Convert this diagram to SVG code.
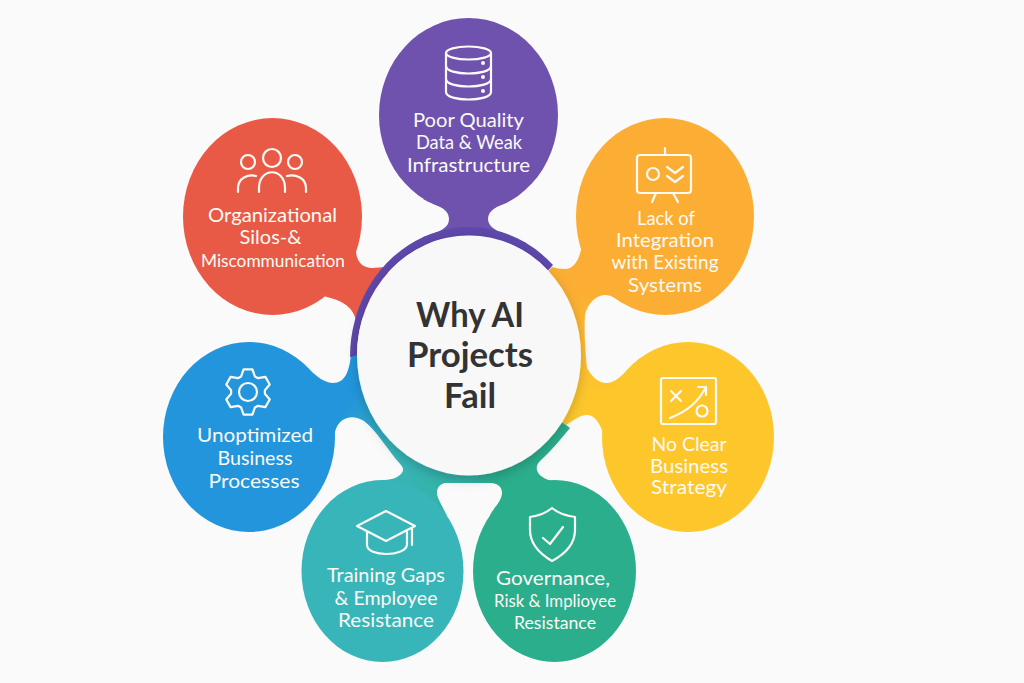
<svg xmlns="http://www.w3.org/2000/svg" width="1024" height="683" viewBox="0 0 1024 683">
<style>
.lb{font-family:"Lato","Noto Sans","Liberation Sans",sans-serif;font-size:20px;fill:#fbfaf5;text-anchor:middle;font-weight:400}
.sm{font-size:18px}
.ti{font-family:"Lato","Noto Sans","Liberation Sans",sans-serif;font-size:35px;font-weight:700;fill:#333333;text-anchor:middle}
.ic{fill:none;stroke:#fbfaf5;stroke-width:2.2;stroke-linecap:round;stroke-linejoin:round}
.dot{fill:#fbfaf5}
</style>
<defs>
<linearGradient id="gb" gradientUnits="userSpaceOnUse" x1="350" y1="400" x2="520" y2="490">
<stop offset="0" stop-color="#2395dc"/><stop offset="0.3" stop-color="#38b5b9"/><stop offset="0.73" stop-color="#33b1a6"/><stop offset="0.86" stop-color="#2bae8c"/>
</linearGradient>
<linearGradient id="gr" gradientUnits="userSpaceOnUse" x1="0" y1="290" x2="0" y2="395">
<stop offset="0" stop-color="#fbae33"/><stop offset="1" stop-color="#fdc72c"/>
</linearGradient>
<filter id="sh" x="-20%" y="-20%" width="140%" height="140%"><feDropShadow dx="0" dy="4" stdDeviation="6" flood-color="#000" flood-opacity="0.2"/></filter>
</defs>
<rect width="1024" height="683" fill="#fafafa"/>
<g id="connectors">
<path fill="#6f52ae" d="M423,199 C437,206 449,208 449,219 C449,228 440,232 423,237 L527,243.500 C505,234 488,230 488,219 C488,210 498,206 510,200 Z"/>
<path fill="#e85a45" d="M356,250 C356,262 363,268 372,268 L385,267 L400,300 L356,320 C352,305 340,300 325,296.500 Z"/>
<path fill="url(#gb)" d="M300,360.500 C312,372 322,383 333,383 C345,383 349,372 351,355 L470,350 L570,428 C560,440 550,452 540,461 C535,466 536,472 541,476 C546,480 552,481 560,482 L490,516 C492,510 497,506 500,500 C505,490 500,484 492,483 L445,483 C437,485 435,492 439,500 C442,506 444,510 447,516 L372,481 C385,480 392,480 397,477 C403,473 405,470 401,465 C385,447 378,432 364,421 C352,413 338,418 335,432 C333,438 333,444 334,450 Z"/>
<path fill="url(#gr)" d="M581,250 C578,262 573,269 565,269 C560,269 556,268 552,267 L470,360 L566,425 C574,420 580,415 587,415 C595,415 599,423 603,432 L640,440 L640,358 C628,368 618,383 607,383 C597,383 591,375 587,368 C585,350 584,330 585,315 C587,305 595,295 605,295 C612,295 618,300 622,303 L640,250 Z"/>
</g>
<g id="node-purple">
<ellipse cx="468.500" cy="115" rx="89.500" ry="97" fill="#6f52ae"/>
<path class="ic" d="M446,53 V92 C446,102 491,102 491,92 V53"/>
<ellipse cx="468.500" cy="53" rx="22.500" ry="6.500" class="ic"/>
<path class="ic" d="M446,66 C446,76 491,76 491,66 M446,79 C446,89 491,89 491,79"/>
<circle class="dot" cx="483" cy="63" r="2"/><circle class="dot" cx="483" cy="77" r="2"/><circle class="dot" cx="483" cy="91" r="2"/>
<text class="lb" x="468.500" y="127" textLength="111" lengthAdjust="spacingAndGlyphs">Poor Quality</text>
<text class="lb" x="469" y="149" textLength="106" lengthAdjust="spacingAndGlyphs">Data &amp; Weak</text>
<text class="lb" x="468.500" y="172" textLength="123" lengthAdjust="spacingAndGlyphs">Infrastructure</text>
</g>
<g id="node-red">
<ellipse cx="272.500" cy="216.500" rx="89.500" ry="98.500" fill="#e85a45"/>
<circle class="ic" cx="272" cy="158" r="9"/><circle class="ic" cx="248" cy="162" r="7"/><circle class="ic" cx="295" cy="162" r="7"/>
<path class="ic" d="M259,192 V188 C259,167 285,167 285,188 V192 M238,192 V188 C238,178 248,174 256,176 M306,192 V188 C306,178 296,174 287,176"/>
<text class="lb" x="272.500" y="222" textLength="129" lengthAdjust="spacingAndGlyphs">Organizational</text>
<text class="lb" x="270.500" y="244" textLength="62" lengthAdjust="spacingAndGlyphs">Silos-&amp;</text>
<text class="lb sm" x="273" y="267" textLength="144" lengthAdjust="spacingAndGlyphs">Miscommunication</text>
</g>
<g id="node-orange">
<ellipse cx="665" cy="216.500" rx="89" ry="98.500" fill="#fbae33"/>
<rect class="ic" x="637" y="155" width="54" height="38" rx="3"/>
<path class="ic" d="M665,148 V155 M656,193 L652,202 M673,193 L678,202 M667,167 L675,173 L683,167 M667,176 L675,182 L683,176"/>
<circle class="ic" cx="653" cy="174" r="6"/>
<text class="lb" x="666" y="225" textLength="58" lengthAdjust="spacingAndGlyphs">Lack of</text>
<text class="lb" x="665" y="247" textLength="98" lengthAdjust="spacingAndGlyphs">Integration</text>
<text class="lb" x="665" y="269" textLength="107" lengthAdjust="spacingAndGlyphs">with Existing</text>
<text class="lb" x="665" y="292" textLength="74" lengthAdjust="spacingAndGlyphs">Systems</text>
</g>
<g id="node-yellow">
<ellipse cx="688" cy="437" rx="86" ry="95" fill="#fdc72c"/>
<rect class="ic" x="661" y="378" width="55" height="46" rx="2"/>
<path class="ic" d="M671,391 L681,401 M681,391 L671,401 M670,418 C688,411 698,402 706,387 M698,387 H706 V395"/>
<circle class="ic" cx="702" cy="411" r="5.500"/>
<text class="lb" x="689" y="450.500" style="font-size:19px" textLength="75" lengthAdjust="spacingAndGlyphs">No Clear</text>
<text class="lb" x="689" y="472.500" style="font-size:19px" font-weight="700" textLength="78" lengthAdjust="spacingAndGlyphs">Business</text>
<text class="lb" x="689" y="494" style="font-size:19px" textLength="76" lengthAdjust="spacingAndGlyphs">Strategy</text>
</g>
<g id="node-blue">
<ellipse cx="249" cy="437" rx="86" ry="95" fill="#2395dc"/>
<g transform="translate(248 392)">
<path class="ic" d="M-6.900,-15.500 L-4.400,-22.600 L4.400,-22.600 L6.900,-15.500 L10,-13.800 L17.400,-15.100 L21.700,-7.500 L16.900,-1.800 L16.900,1.800 L21.700,7.500 L17.400,15.100 L10,13.800 L6.900,15.500 L4.400,22.600 L-4.400,22.600 L-6.900,15.500 L-10,13.800 L-17.400,15.100 L-21.700,7.500 L-16.900,1.800 L-16.900,-1.800 L-21.700,-7.500 L-17.400,-15.100 L-10,-13.800 Z"/>
<circle class="ic" cx="0" cy="0" r="9"/>
</g>
<text class="lb" x="255" y="442" textLength="116" lengthAdjust="spacingAndGlyphs">Unoptimized</text>
<text class="lb" x="255" y="465" textLength="75" lengthAdjust="spacingAndGlyphs">Business</text>
<text class="lb" x="254" y="488" textLength="91" lengthAdjust="spacingAndGlyphs">Processes</text>
</g>
<g id="node-teal">
<ellipse cx="382.500" cy="571" rx="81" ry="91" fill="#38b5b9"/>
<path class="ic" d="M386,511 L415,526 L386,541 L357,526 Z M367,531 V545 C367,557 405,557 407,545 V532 M412,528 V545"/>
<text class="lb" x="386" y="582" textLength="118" lengthAdjust="spacingAndGlyphs">Training Gaps</text>
<text class="lb" x="386" y="605" textLength="103" lengthAdjust="spacingAndGlyphs">&amp; Employee</text>
<text class="lb" x="386" y="627" textLength="96" lengthAdjust="spacingAndGlyphs">Resistance</text>
</g>
<g id="node-green">
<ellipse cx="554.500" cy="571" rx="81.500" ry="91" fill="#2bae8c"/>
<path class="ic" d="M552,508 C545,514 538,516 530,517 V530 C530,545 540,554 552,561 C565,554 575,545 575,530 V517 C567,516 559,514 552,508 Z M543,538 L550,544 L563,527"/>
<text class="lb" x="553" y="585" textLength="114" lengthAdjust="spacingAndGlyphs">Governance,</text>
<text class="lb sm" x="555" y="607" textLength="122" lengthAdjust="spacingAndGlyphs">Risk &amp; Implioyee</text>
<text class="lb sm" x="555" y="629" textLength="82" lengthAdjust="spacingAndGlyphs">Resistance</text>
</g>
<g id="hub">
<path fill="#5e48ab" d="M553,265 A119 130 0 0 0 350,357 L357,355.500 A112 120 0 0 1 548,270.400 Z"/>
<ellipse cx="469" cy="355.500" rx="112" ry="120" fill="#f8f8f8" filter="url(#sh)"/>
<text class="ti" x="470" y="327" textLength="108" lengthAdjust="spacingAndGlyphs">Why AI</text>
<text class="ti" x="470" y="367" textLength="126" lengthAdjust="spacingAndGlyphs">Projects</text>
<text class="ti" x="470" y="408" textLength="52" lengthAdjust="spacingAndGlyphs">Fail</text>
</g>
</svg>
